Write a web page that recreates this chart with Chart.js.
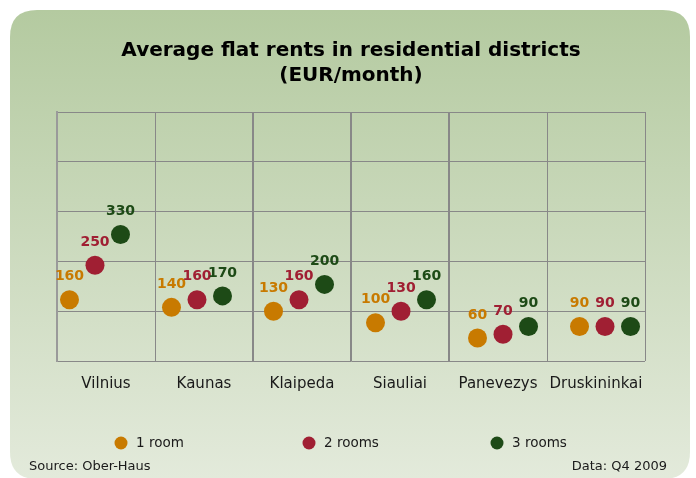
<!DOCTYPE html>
<html>
<head>
<meta charset="utf-8">
<script src="https://cdn.jsdelivr.net/npm/chart.js@4/dist/chart.umd.min.js"></script>
<style>
  html, body { margin: 0; padding: 0; background: #ffffff; }
  #wrap { width: 696px; height: 478px; position: relative; }
</style>
</head>
<body>
<div id="wrap"><canvas id="c" width="696" height="478"></canvas></div>
<script>
// ---- data ----
const categories = ["Vilnius", "Kaunas", "Klaipeda", "Siauliai", "Panevezys", "Druskininkai"];
const seriesNames = ["1 room", "2 rooms", "3 rooms"];
const oneRoom   = [160, 140, 130, 100, 60, 90];
const twoRooms  = [250, 160, 160, 130, 70, 90];
const threeRooms = [330, 170, 200, 160, 90, 90];
const titleLines = ["Average flat rents in residential districts", "(EUR/month)"];
const sourceText = "Source: Ober-Haus";
const dateText = "Data: Q4 2009";

// ---- styles ----
const colors = ["#c87a00", "#a01f33", "#1d4a16"];
const seriesOffset = [-0.25, 0, 0.25]; // position within category group
const FONT = "'DejaVu Sans', Verdana, sans-serif";

function toPoints(values, s) {
  return values.map((v, i) => ({ x: i + seriesOffset[s], y: v }));
}

const allSeries = [oneRoom, twoRooms, threeRooms];
const datasets = allSeries.map((vals, s) => ({
  label: seriesNames[s],
  data: toPoints(vals, s),
  backgroundColor: colors[s],
  borderColor: colors[s],
  pointRadius: 9.5,
  pointHoverRadius: 9.5,
  borderWidth: 0,
  showLine: false,
  xAxisID: 'x',
  yAxisID: 'y'
}));

const bgPlugin = {
  id: 'bg',
  beforeDraw(chart) {
    const ctx = chart.ctx;
    ctx.save();
    ctx.fillStyle = '#ffffff';
    ctx.fillRect(0, 0, chart.width, chart.height);
    const x0 = 10, y0 = 10, x1 = 690, y1 = 479, r = 27;
    const g = ctx.createLinearGradient(0, y0, 0, y1);
    g.addColorStop(0, '#b4caa0');
    g.addColorStop(1, '#e3eadb');
    ctx.fillStyle = g;
    ctx.beginPath();
    ctx.moveTo(x0 + r, y0);
    ctx.lineTo(x1 - r, y0);
    ctx.quadraticCurveTo(x1, y0, x1, y0 + r);
    ctx.lineTo(x1, y1 - r);
    ctx.quadraticCurveTo(x1, y1, x1 - r, y1);
    ctx.lineTo(x0 + r, y1);
    ctx.quadraticCurveTo(x0, y1, x0, y1 - r);
    ctx.lineTo(x0, y0 + r);
    ctx.quadraticCurveTo(x0, y0, x0 + r, y0);
    ctx.closePath();
    ctx.fill();
    ctx.restore();
  }
};

const labelPlugin = {
  id: 'valueLabels',
  afterDatasetsDraw(chart) {
    const ctx = chart.ctx;
    ctx.save();
    ctx.font = "bold 14px " + FONT;
    ctx.textAlign = 'center';
    ctx.textBaseline = 'middle';
    chart.data.datasets.forEach((ds, di) => {
      const meta = chart.getDatasetMeta(di);
      meta.data.forEach((el, i) => {
        ctx.fillStyle = ds.backgroundColor;
        ctx.fillText(String(ds.data[i].y), el.x, el.y - 23);
      });
    });
    ctx.restore();
  }
};

const footerPlugin = {
  id: 'footerLegend',
  afterDraw(chart) {
    const ctx = chart.ctx;
    ctx.save();
    const legendX = [121, 309, 497];
    const ly = 443;
    ctx.font = "13.5px " + FONT;
    ctx.textBaseline = 'middle';
    chart.data.datasets.forEach((ds, i) => {
      ctx.fillStyle = ds.backgroundColor;
      ctx.beginPath();
      ctx.arc(legendX[i], ly, 6.5, 0, Math.PI * 2);
      ctx.fill();
      ctx.fillStyle = '#1a1a1a';
      ctx.textAlign = 'left';
      ctx.fillText(ds.label, legendX[i] + 15, ly);
    });
    ctx.font = "13px " + FONT;
    ctx.fillStyle = '#1a1a1a';
    ctx.textAlign = 'left';
    ctx.fillText(sourceText, 29, 467);
    ctx.textAlign = 'right';
    ctx.fillText(dateText, 667, 467);
    ctx.restore();
  }
};

const gridW = [2, 1, 2, 2, 2, 1, 1];

new Chart(document.getElementById('c'), {
  type: 'scatter',
  data: { datasets },
  plugins: [bgPlugin, labelPlugin, footerPlugin],
  options: {
    responsive: false,
    animation: false,
    devicePixelRatio: 1,
    layout: { padding: { top: 38, left: 57, right: 51, bottom: 71 } },
    plugins: {
      legend: { display: false },
      tooltip: { enabled: false },
      title: {
        display: true,
        text: titleLines,
        color: '#000000',
        font: { family: FONT, size: 20, weight: 'bold', lineHeight: 1.25 },
        padding: { top: 0, bottom: 24 }
      }
    },
    scales: {
      x: {
        type: 'linear',
        display: false,
        min: -0.3725,
        max: 5.392
      },
      xc: {
        type: 'category',
        labels: categories,
        position: 'bottom',
        offset: true,
        grid: {
          offset: true,
          color: '#888888',
          lineWidth: (ctx) => gridW[ctx.index] ?? 1,
          drawTicks: false
        },
        border: { display: false },
        ticks: {
          color: '#1a1a1a',
          font: { family: FONT, size: 15 },
          padding: 14,
          maxRotation: 0,
          autoSkip: false
        }
      },
      y: {
        type: 'linear',
        min: 0,
        max: 650,
        ticks: { display: false, stepSize: 130 },
        grid: { color: '#888888', lineWidth: 1, drawTicks: false },
        border: { display: true, color: '#9a9a9a', width: 2 }
      }
    }
  }
});
</script>
</body>
</html>
